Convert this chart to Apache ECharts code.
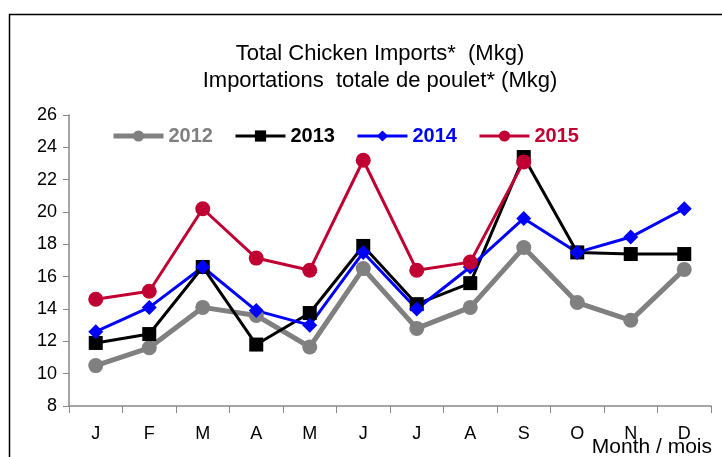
<!DOCTYPE html>
<html>
<head>
<meta charset="utf-8">
<script src="https://cdn.jsdelivr.net/npm/echarts@6/dist/echarts.min.js"></script>
<style>
  html, body { margin: 0; padding: 0; background: #fff; }
  #chart { width: 722px; height: 457px; }
</style>
</head>
<body>
<div id="chart"></div>
<script>
// months + yearly import values (Mkg)
var months = ['J', 'F', 'M', 'A', 'M', 'J', 'J', 'A', 'S', 'O', 'N', 'D'];
var y2012 = [10.5, 11.6, 14.1, 13.6, 11.65, 16.5, 12.8, 14.1, 17.8, 14.4, 13.3, 16.45];
var y2013 = [11.9, 12.45, 16.6, 11.8, 13.75, 17.9, 14.3, 15.6, 23.4, 17.5, 17.4, 17.4];
var y2014 = [12.6, 14.1, 16.6, 13.9, 13.0, 17.5, 14.0, 16.6, 19.6, 17.5, 18.45, 20.2];
var y2015 = [14.6, 15.1, 20.2, 17.15, 16.4, 23.2, 16.4, 16.9, 23.1];
var yTicks = [8, 10, 12, 14, 16, 18, 20, 22, 24, 26];

var font = 'Liberation Sans, Arial, sans-serif';
var myChart = echarts.init(document.getElementById('chart'));

function mkSeries(name, data, color, width, symbol, size) {
  return {
    name: name,
    type: 'line',
    data: data,
    symbol: symbol,
    symbolSize: size,
    lineStyle: { color: color, width: width },
    itemStyle: { color: color },
    animation: false
  };
}

var option = {
  animation: false,
  title: {
    text: 'Total Chicken Imports*  (Mkg)\nImportations  totale de poulet* (Mkg)',
    left: 375,
    textAlign: 'center',
    top: 35,
    textStyle: { fontFamily: font, fontWeight: 'normal', fontSize: 22, lineHeight: 27, color: '#000' }
  },
  legend: {
    left: 106,
    top: 121,
    itemWidth: 50,
    itemHeight: 14,
    itemGap: 21,
    textStyle: { fontFamily: font, fontWeight: 'bold', fontSize: 20 },
    data: [
      { name: '2012', textStyle: { color: '#808080' }, lineStyle: { width: 5 } },
      { name: '2013', textStyle: { color: '#000000' }, lineStyle: { width: 3 } },
      { name: '2014', textStyle: { color: '#0000FF' }, lineStyle: { width: 3 } },
      { name: '2015', textStyle: { color: '#C00033' }, lineStyle: { width: 3 } }
    ]
  },
  grid: { left: 69, right: 11, top: 115, bottom: 51 },
  xAxis: {
    type: 'category',
    data: months,
    boundaryGap: true,
    axisLine: { lineStyle: { color: '#888', width: 1.5 } },
    axisTick: { show: true, length: 7, alignWithLabel: false, lineStyle: { color: '#888' } },
    axisLabel: { fontFamily: font, fontSize: 18, color: '#000', margin: 19 },
    splitLine: { show: false }
  },
  yAxis: {
    type: 'value',
    min: yTicks[0],
    max: yTicks[yTicks.length - 1],
    interval: 2,
    axisLine: { show: true, lineStyle: { color: '#888', width: 1.5 } },
    axisTick: { show: true, length: 6, lineStyle: { color: '#888' } },
    axisLabel: { fontFamily: font, fontSize: 18, color: '#000', margin: 12 },
    splitLine: { show: false }
  },
  graphic: [
    { type: 'rect', left: 7, top: 12, shape: { width: 730, height: 460 }, style: { fill: 'none', stroke: '#000', lineWidth: 1.5 }, silent: true },
    // axis title, bottom right
    { type: 'text', right: 10, top: 437, style: { text: 'Month / mois', fontFamily: font, fontSize: 21, fill: '#000' }, silent: true }
  ],
  series: [
    mkSeries('2012', y2012, '#808080', 5, 'circle', 15),
    mkSeries('2013', y2013, '#000000', 3, 'rect', 14),
    mkSeries('2014', y2014, '#0000FF', 3, 'diamond', 15),
    mkSeries('2015', y2015, '#C00033', 3, 'circle', 15)
  ]
};

option && myChart.setOption(option);
</script>
</body>
</html>
